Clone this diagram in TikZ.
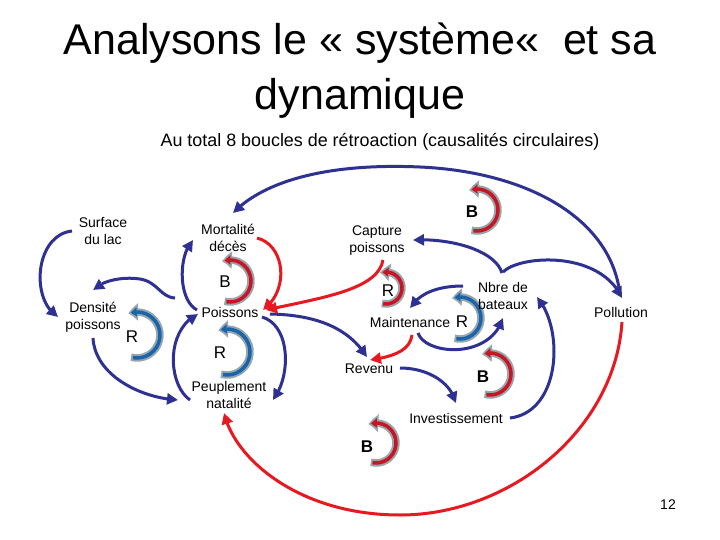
\documentclass[tikz,border=0pt]{standalone}
\usepackage{fontspec}
\setmainfont{Liberation Sans}
\usetikzlibrary{arrows.meta,bending}
\definecolor{navy}{RGB}{46,49,146}
\definecolor{cred}{RGB}{232,24,32}
\definecolor{icongray}{RGB}{150,166,172}
\definecolor{iconred}{RGB}{200,20,35}
\definecolor{iconblue}{RGB}{25,100,170}
\tikzset{
  pics/loopc/.style 2 args={code={
    \draw[icongray, line width=7.5pt, -{Triangle[length=10pt,width=17pt,bend]}]
      (105:#2) arc[start angle=105, end angle=-112, radius=#2];
    \draw[#1, line width=3.5pt, shorten >=2.5pt, -{Triangle[length=6pt,width=9pt,bend]}]
      (100:#2) arc[start angle=100, end angle=-112, radius=#2];
  }}
}
\begin{document}
\begin{tikzpicture}[x=1pt,y=-1pt,
  lbl/.style={font=\fontsize{14}{17}\selectfont, align=center, inner sep=1pt},
  bl/.style={draw=navy, line width=3pt, -{Triangle[length=11pt,width=11pt]}},
  rd/.style={draw=cred, line width=3pt, -{Triangle[length=11pt,width=11pt]}},
  looplbl/.style={font=\fontsize{17}{17}\selectfont, inner sep=0pt},
  loopbold/.style={font=\fontsize{17}{17}\selectfont\bfseries, inner sep=0pt}
]
\fill[white] (0,0) rectangle (720,540);
\useasboundingbox (0,0) rectangle (720,540);

% titles
\node[anchor=base, font=\fontsize{43}{43}\selectfont, inner sep=0pt] (t1) at (360,55) {Analysons le « système«~~et sa};
\node[anchor=base, font=\fontsize{43}{43}\selectfont, inner sep=0pt] (t2) at (360,110) {dynamique};
\node[anchor=base, font=\fontsize{17.9}{17.9}\selectfont, inner sep=0pt] (st) at (380,147) {Au total 8 boucles de rétroaction (causalités circulaires)};
\node[anchor=base, font=\fontsize{14}{14}\selectfont, inner sep=0pt] (pg) at (668,509) {12};

% loop icons
\pic at (477,210) {loopc={iconred}{21}};
\pic at (230,281) {loopc={iconred}{21}};
\pic at (137,335) {loopc={iconblue}{23}};
\pic at (227,352) {loopc={iconblue}{23}};
\pic at (386,288) {loopc={iconred}{16}};
\pic at (460,318) {loopc={iconblue}{21}};
\pic at (490,374) {loopc={iconred}{21}};
\pic at (376,443) {loopc={iconred}{20}};

% nodes
\node[lbl] (surf) at (103,231) {Surface\\du lac};
\node[lbl] (mort) at (228,238) {Mortalité\\décès};
\node[lbl] (capt) at (377,241) {Capture\\poissons};
\node[lbl] (dens) at (93,317) {Densité\\poissons};
\node[lbl] (pois) at (230,312) {Poissons};
\node[lbl] (nbre) at (503,296) {Nbre de\\bateaux};
\node[lbl] (maint) at (410,322) {Maintenance};
\node[lbl] (poll) at (621,312) {Pollution};
\node[lbl] (peup) at (229,395) {Peuplement\\natalité};
\node[lbl] (rev) at (369,369) {Revenu};
\node[lbl] (inv) at (456,418) {Investissement};

% loop letters
\node[loopbold] (lb1) at (472,212) {B};
\node[looplbl] (lb2) at (225,282) {B};
\node[looplbl] (lr1) at (132,337) {R};
\node[looplbl] (lr2) at (220,353) {R};
\node[looplbl] (lr3) at (388,291) {R};
\node[looplbl] (lr4) at (462,322) {R};
\node[loopbold] (lb3) at (483,377) {B};
\node[loopbold] (lb4) at (367,447) {B};

% blue connectors
\draw[bl] ([shift={(-31,0)}]surf.center) .. controls (35,235) and (30,300) .. ([shift={(-35,0)}]dens.center);
\draw[bl] ([shift={(-55,-14)}]pois.center) .. controls (160,297) and (158,282) .. (140,279) .. controls (120,276) and (100,282) .. ([shift={(0,-27)}]dens.center);
\draw[bl] ([shift={(-33,-2)}]pois.center) .. controls (178,300) and (178,255) .. ([shift={(-35,2)}]mort.center);
\draw[bl] ([shift={(0,21)}]dens.center) .. controls (95,375) and (140,398) .. ([shift={(-51,5)}]peup.center);
\draw[bl] ([shift={(-39,5)}]peup.center) .. controls (168,385) and (165,330) .. ([shift={(-32,2)}]pois.center);
\draw[bl] ([shift={(32,5)}]pois.center) .. controls (290,325) and (292,375) .. ([shift={(44,5)}]peup.center);
\draw[bl] ([shift={(-1,-17)}]poll.center) .. controls (612,220) and (530,172) .. (420,167) .. controls (330,163) and (265,180) .. ([shift={(5,-25)}]mort.center);
\draw[bl] ([shift={(-1,-23)}]nbre.center) .. controls (495,250) and (450,238) .. ([shift={(36,-1)}]capt.center);
\draw[bl] ([shift={(0,-24)}]nbre.center) .. controls (520,255) and (600,250) .. ([shift={(1,-14)}]poll.center);
\draw[bl] ([shift={(-40,-10)}]nbre.center) .. controls (440,286) and (420,292) .. ([shift={(0,-14)}]maint.center);
\draw[bl] ([shift={(8,11)}]maint.center) .. controls (425,355) and (490,360) .. ([shift={(0,22)}]nbre.center);
\draw[bl] ([shift={(40,2)}]pois.center) .. controls (320,315) and (350,330) .. ([shift={(-2,-12)}]rev.center);
\draw[bl] ([shift={(31,-1)}]rev.center) .. controls (425,368) and (450,380) .. ([shift={(0,-15)}]inv.center);
\draw[bl] ([shift={(54,0)}]inv.center) .. controls (560,412) and (565,330) .. ([shift={(34,1)}]nbre.center);

% red connectors
\draw[rd] ([shift={(29,0)}]mort.center) .. controls (285,245) and (290,290) .. ([shift={(33,-2)}]pois.center);
\draw[rd] ([shift={(6,19)}]capt.center) .. controls (378,290) and (320,298) .. ([shift={(36,-2)}]pois.center);
\draw[rd] ([shift={(2,13)}]maint.center) .. controls (410,352) and (390,357) .. ([shift={(1,-9)}]rev.center);
\draw[rd] ([shift={(1,10)}]poll.center) .. controls (615,430) and (510,515) .. (400,515) .. controls (300,515) and (235,460) .. ([shift={(-5,18)}]peup.center);
\end{tikzpicture}
\end{document}
